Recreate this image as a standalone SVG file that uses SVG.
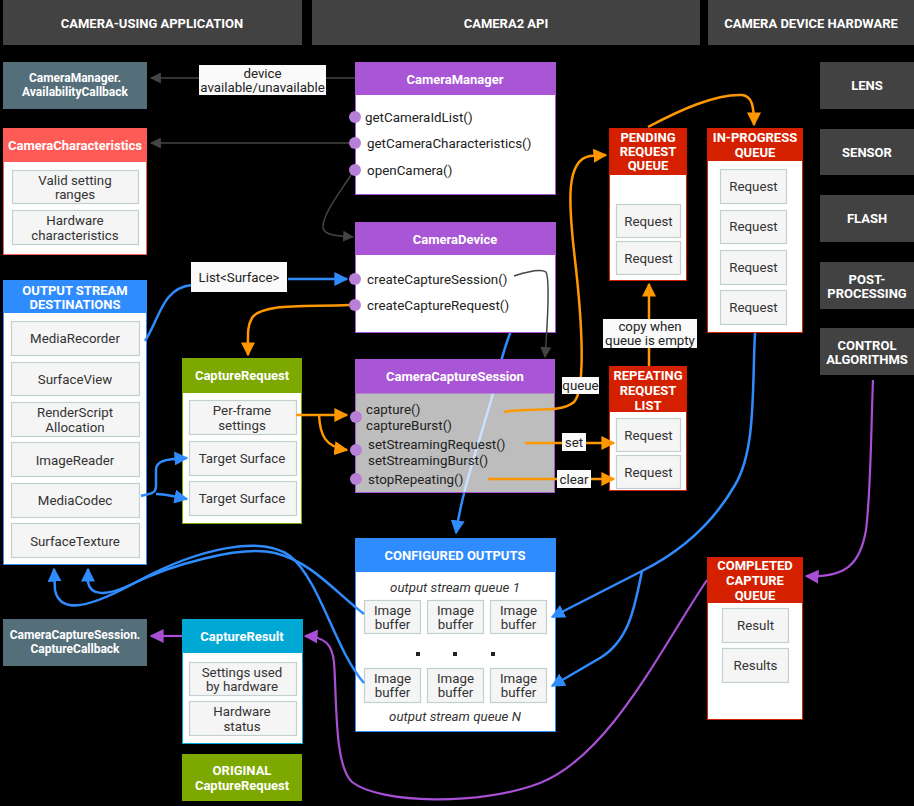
<svg xmlns="http://www.w3.org/2000/svg" width="914" height="806" viewBox="0 0 914 806">
  <defs>
    <style>
      text { font-family: Roboto, "Liberation Sans", sans-serif; }
      .hdr { fill: #424242; }
      .hdrt { fill: #ffffff; font-size: 13px; font-weight: bold; text-anchor: middle; }
      .ttl { fill: #ffffff; font-size: 13px; font-weight: bold; text-anchor: middle; }
      .ttls { fill: #ffffff; font-size: 12px; font-weight: bold; text-anchor: middle; }
      .item { fill: #f5f5f5; stroke: #c3d0cf; stroke-width: 1.2; }
      .it { fill: #333333; font-size: 13.3px; text-anchor: middle; }
      .m { fill: #222222; font-size: 13.4px; }
      .lbl { fill: #fafafa; }
      .lt { fill: #222222; font-size: 13.3px; text-anchor: middle; }
      .dot { fill: #b77fd7; }
      .body { fill: #ffffff; }
      .em { fill: #333333; font-size: 13.3px; font-style: italic; text-anchor: middle; }
      .gray { fill: none; stroke: #444444; stroke-width: 1.5; }
      .blue { fill: none; stroke: #2f8cff; stroke-width: 2.5; }
      .orange { fill: none; stroke: #ff9800; stroke-width: 2.5; }
      .purple { fill: none; stroke: #a94fd5; stroke-width: 2.2; }
    </style>
    <marker id="ahGray" viewBox="0 0 10 10" refX="9" refY="5" markerWidth="11" markerHeight="11" markerUnits="userSpaceOnUse" orient="auto">
      <path d="M0,0 L10,5 L0,10 z" fill="#444444"/>
    </marker>
    <marker id="ahBlue" viewBox="0 0 10 10" refX="9" refY="5" markerWidth="14" markerHeight="14" markerUnits="userSpaceOnUse" orient="auto">
      <path d="M0,0 L10,5 L0,10 z" fill="#2f8cff"/>
    </marker>
    <marker id="ahOrange" viewBox="0 0 10 10" refX="9" refY="5" markerWidth="14" markerHeight="14" markerUnits="userSpaceOnUse" orient="auto">
      <path d="M0,0 L10,5 L0,10 z" fill="#ff9800"/>
    </marker>
    <marker id="ahPurple" viewBox="0 0 10 10" refX="9" refY="5" markerWidth="14" markerHeight="14" markerUnits="userSpaceOnUse" orient="auto">
      <path d="M0,0 L10,5 L0,10 z" fill="#a94fd5"/>
    </marker>
  </defs>

  <rect width="914" height="806" fill="#000000"/>

  <!-- column headings -->
  <g id="col-app">
    <rect class="hdr" x="3" y="0" width="299" height="45"/>
    <text class="hdrt" x="152" y="27.5">CAMERA-USING APPLICATION</text>
  </g>
  <g id="col-api">
    <rect class="hdr" x="312" y="0" width="388" height="45"/>
    <text class="hdrt" x="506" y="27.5">CAMERA2 API</text>
  </g>
  <g id="col-hw">
    <rect class="hdr" x="708" y="0" width="206" height="45"/>
    <text class="hdrt" x="811" y="27.5">CAMERA DEVICE HARDWARE</text>
  </g>

  <!-- hardware blocks -->
  <g id="hw-lens"><rect class="hdr" x="820" y="62" width="94" height="47"/><text class="hdrt" x="867" y="90">LENS</text></g>
  <g id="hw-sensor"><rect class="hdr" x="820" y="129" width="94" height="46"/><text class="hdrt" x="867" y="157">SENSOR</text></g>
  <g id="hw-flash"><rect class="hdr" x="820" y="195" width="94" height="47"/><text class="hdrt" x="867" y="223">FLASH</text></g>
  <g id="hw-post"><rect class="hdr" x="820" y="262" width="94" height="47"/><text class="hdrt" x="867" y="283.5">POST-</text><text class="hdrt" x="867" y="298">PROCESSING</text></g>
  <g id="hw-control"><rect class="hdr" x="820" y="328" width="94" height="47"/><text class="hdrt" x="867" y="350">CONTROL</text><text class="hdrt" x="867" y="364">ALGORITHMS</text></g>

  <!-- connectors (drawn below the nodes where they pass behind them) -->
  <g id="connectors">
    <!-- createCaptureSession -> configured outputs (passes behind the translucent session body) -->
    <path class="blue" d="M517,280 C535,279 537,286 528,298 C515,318 505,340 494,390 C480,440 462,490 456,533" marker-end="url(#ahBlue)"/>
  </g>

  <!-- CameraManager.AvailabilityCallback -->
  <g id="availability-callback">
    <rect x="3" y="62" width="144" height="47" fill="#546e7a"/>
    <text class="ttls" x="75" y="81.5">CameraManager.</text>
    <text class="ttls" x="75" y="96">AvailabilityCallback</text>
  </g>

  <!-- CameraCharacteristics -->
  <g id="camera-characteristics">
    <rect x="3.5" y="128.5" width="143" height="126" fill="#ffffff" stroke="#ff5b56"/>
    <rect x="3" y="128" width="144" height="34" fill="#ff5b56"/>
    <text class="ttl" x="75" y="150">CameraCharacteristics</text>
    <rect class="item" x="12.5" y="170.5" width="126" height="33"/>
    <text class="it" x="75" y="185">Valid setting</text>
    <text class="it" x="75" y="199">ranges</text>
    <rect class="item" x="12.5" y="210.5" width="126" height="34"/>
    <text class="it" x="75" y="225">Hardware</text>
    <text class="it" x="75" y="240">characteristics</text>
  </g>

  <!-- Output stream destinations -->
  <g id="output-destinations">
    <rect x="3.5" y="280.5" width="143" height="284" fill="#ffffff" stroke="#2f8cff"/>
    <rect x="3" y="280" width="144" height="33" fill="#2f8cff"/>
    <text class="ttl" x="75" y="295">OUTPUT STREAM</text>
    <text class="ttl" x="75" y="309">DESTINATIONS</text>
    <rect class="item" x="11.5" y="321.5" width="128" height="34"/><text class="it" x="75" y="343">MediaRecorder</text>
    <rect class="item" x="11.5" y="362.5" width="128" height="33"/><text class="it" x="75" y="384">SurfaceView</text>
    <rect class="item" x="11.5" y="402.5" width="128" height="34"/><text class="it" x="75" y="417">RenderScript</text><text class="it" x="75" y="432">Allocation</text>
    <rect class="item" x="11.5" y="442.5" width="128" height="34"/><text class="it" x="75" y="465">ImageReader</text>
    <rect class="item" x="11.5" y="483.5" width="128" height="34"/><text class="it" x="75" y="505">MediaCodec</text>
    <rect class="item" x="11.5" y="523.5" width="128" height="34"/><text class="it" x="75" y="546">SurfaceTexture</text>
  </g>

  <!-- CaptureRequest -->
  <g id="capture-request">
    <rect x="182.5" y="358.5" width="119" height="165" fill="#ffffff" stroke="#7ca800"/>
    <rect x="182" y="358" width="120" height="35" fill="#7ca800"/>
    <text class="ttl" x="242" y="380">CaptureRequest</text>
    <rect class="item" x="189.5" y="400.5" width="107" height="34"/><text class="it" x="242" y="415">Per-frame</text><text class="it" x="242" y="430">settings</text>
    <rect class="item" x="189.5" y="441.5" width="107" height="34"/><text class="it" x="242" y="463">Target Surface</text>
    <rect class="item" x="189.5" y="481.5" width="107" height="34"/><text class="it" x="242" y="503">Target Surface</text>
  </g>

  <!-- CameraCaptureSession.CaptureCallback -->
  <g id="capture-callback">
    <rect x="3" y="619" width="144" height="47" fill="#546e7a"/>
    <text class="ttls" x="75" y="638.5">CameraCaptureSession.</text>
    <text class="ttls" x="75" y="653">CaptureCallback</text>
  </g>

  <!-- CaptureResult -->
  <g id="capture-result">
    <rect x="182.5" y="619.5" width="120" height="124" fill="#ffffff" stroke="#00a8d6"/>
    <rect x="182" y="619" width="121" height="34" fill="#00a8d6"/>
    <text class="ttl" x="242" y="640.5">CaptureResult</text>
    <rect class="item" x="189.5" y="662.5" width="107" height="33"/><text class="it" x="242" y="677">Settings used</text><text class="it" x="242" y="691">by hardware</text>
    <rect class="item" x="189.5" y="701.5" width="107" height="34"/><text class="it" x="242" y="716">Hardware</text><text class="it" x="242" y="731">status</text>
  </g>

  <!-- Original CaptureRequest -->
  <g id="original-request">
    <rect x="182" y="754" width="120" height="47" fill="#7ca800"/>
    <text class="ttl" x="242" y="775">ORIGINAL</text>
    <text class="ttl" x="242" y="790">CaptureRequest</text>
  </g>

  <!-- CameraManager -->
  <g id="camera-manager">
    <rect class="body" x="355.5" y="62.5" width="200" height="132" stroke="#a855d6"/>
    <rect x="355" y="62" width="201" height="33" fill="#a855d6"/>
    <text class="ttl" x="455" y="83.5">CameraManager</text>
    <circle class="dot" cx="355" cy="117" r="6"/><text class="m" x="365" y="121.5">getCameraIdList()</text>
    <circle class="dot" cx="355" cy="143" r="6"/><text class="m" x="367" y="147.5">getCameraCharacteristics()</text>
    <circle class="dot" cx="355" cy="170" r="6"/><text class="m" x="367" y="174.5">openCamera()</text>
  </g>

  <!-- CameraDevice -->
  <g id="camera-device">
    <rect class="body" x="355.5" y="222.5" width="200" height="110" stroke="#a855d6"/>
    <rect x="355" y="222" width="201" height="33" fill="#a855d6"/>
    <text class="ttl" x="455" y="243.5">CameraDevice</text>
    <circle class="dot" cx="355" cy="279" r="6"/><text class="m" x="367" y="283.5">createCaptureSession()</text>
    <circle class="dot" cx="355" cy="305" r="6"/><text class="m" x="367" y="309.5">createCaptureRequest()</text>
  </g>

  <!-- CameraCaptureSession -->
  <g id="capture-session">
    <rect x="355.5" y="393" width="199" height="99.5" fill="#ffffff" fill-opacity="0.74" stroke="#a855d6"/>
    <rect x="355" y="359" width="200" height="34" fill="#a855d6"/>
    <text class="ttl" x="455" y="381">CameraCaptureSession</text>
    <circle class="dot" cx="356" cy="417" r="6"/>
    <text class="m" x="366" y="413.5">capture()</text>
    <text class="m" x="366" y="429.5">captureBurst()</text>
    <circle class="dot" cx="356" cy="450" r="6"/>
    <text class="m" x="368" y="448.5">setStreamingRequest()</text>
    <text class="m" x="368" y="464.5">setStreamingBurst()</text>
    <circle class="dot" cx="356" cy="479" r="6"/>
    <text class="m" x="368" y="483.5">stopRepeating()</text>
  </g>

  <!-- Configured outputs -->
  <g id="configured-outputs">
    <rect class="body" x="355.5" y="538.5" width="200" height="193" stroke="#2f8cff"/>
    <rect x="355" y="538" width="201" height="34" fill="#2f8cff"/>
    <text class="ttl" x="455" y="560">CONFIGURED OUTPUTS</text>
    <text class="em" x="455" y="592">output stream queue 1</text>
    <rect class="item" x="364.5" y="600.5" width="56" height="33"/><text class="it" x="392.5" y="615">Image</text><text class="it" x="392.5" y="629">buffer</text>
    <rect class="item" x="427.5" y="600.5" width="56" height="33"/><text class="it" x="455.5" y="615">Image</text><text class="it" x="455.5" y="629">buffer</text>
    <rect class="item" x="490.5" y="600.5" width="56" height="33"/><text class="it" x="518.5" y="615">Image</text><text class="it" x="518.5" y="629">buffer</text>
    <rect x="416" y="652" width="4" height="4" fill="#222"/>
    <rect x="453" y="652" width="4" height="4" fill="#222"/>
    <rect x="491" y="652" width="4" height="4" fill="#222"/>
    <rect class="item" x="364.5" y="668.5" width="56" height="34"/><text class="it" x="392.5" y="683">Image</text><text class="it" x="392.5" y="697">buffer</text>
    <rect class="item" x="427.5" y="668.5" width="56" height="34"/><text class="it" x="455.5" y="683">Image</text><text class="it" x="455.5" y="697">buffer</text>
    <rect class="item" x="490.5" y="668.5" width="56" height="34"/><text class="it" x="518.5" y="683">Image</text><text class="it" x="518.5" y="697">buffer</text>
    <text class="em" x="455" y="721">output stream queue N</text>
  </g>

  <!-- Pending request queue -->
  <g id="pending-queue">
    <rect class="body" x="609.5" y="128.5" width="77" height="152" stroke="#d52000"/>
    <rect x="609" y="128" width="78" height="47" fill="#d52000"/>
    <text class="ttl" x="648" y="142">PENDING</text>
    <text class="ttl" x="648" y="156">REQUEST</text>
    <text class="ttl" x="648" y="170">QUEUE</text>
    <rect class="item" x="616.5" y="204.5" width="64" height="33"/><text class="it" x="648.5" y="226">Request</text>
    <rect class="item" x="616.5" y="241.5" width="64" height="33"/><text class="it" x="648.5" y="263">Request</text>
  </g>

  <!-- In-progress queue -->
  <g id="in-progress-queue">
    <rect class="body" x="707.5" y="128.5" width="95" height="204" stroke="#d52000"/>
    <rect x="707" y="128" width="96" height="33" fill="#d52000"/>
    <text class="ttl" x="755" y="142">IN-PROGRESS</text>
    <text class="ttl" x="755" y="157">QUEUE</text>
    <rect class="item" x="720.5" y="169.5" width="66" height="34"/><text class="it" x="753.5" y="191">Request</text>
    <rect class="item" x="720.5" y="210.5" width="66" height="33"/><text class="it" x="753.5" y="231">Request</text>
    <rect class="item" x="720.5" y="250.5" width="66" height="34"/><text class="it" x="753.5" y="272">Request</text>
    <rect class="item" x="720.5" y="290.5" width="66" height="34"/><text class="it" x="753.5" y="312">Request</text>
  </g>

  <!-- Repeating request list -->
  <g id="repeating-list">
    <rect class="body" x="609.5" y="366.5" width="77" height="124" stroke="#d52000"/>
    <rect x="609" y="366" width="78" height="46" fill="#d52000"/>
    <text class="ttl" x="648" y="380">REPEATING</text>
    <text class="ttl" x="648" y="395">REQUEST</text>
    <text class="ttl" x="648" y="410">LIST</text>
    <rect class="item" x="616.5" y="418.5" width="64" height="33"/><text class="it" x="648.5" y="440">Request</text>
    <rect class="item" x="616.5" y="455.5" width="64" height="33"/><text class="it" x="648.5" y="477">Request</text>
  </g>

  <!-- Completed capture queue -->
  <g id="completed-queue">
    <rect class="body" x="707.5" y="557.5" width="95" height="162" stroke="#d52000"/>
    <rect x="707" y="557" width="96" height="46" fill="#d52000"/>
    <text class="ttl" x="755" y="570">COMPLETED</text>
    <text class="ttl" x="755" y="585">CAPTURE</text>
    <text class="ttl" x="755" y="600">QUEUE</text>
    <rect class="item" x="722.5" y="608.5" width="66" height="34"/><text class="it" x="755.5" y="630">Result</text>
    <rect class="item" x="722.5" y="648.5" width="66" height="34"/><text class="it" x="755.5" y="670">Results</text>
  </g>

  <!-- connectors drawn over the nodes -->
  <g id="connectors-top">
    <!-- CameraManager callbacks -->
    <path class="gray" d="M355,78 L151,78" marker-end="url(#ahGray)"/>
    <path class="gray" d="M349,143 L151,143" marker-end="url(#ahGray)"/>
    <path class="gray" d="M351,175 C340,192 322,215 323,228 C325,236 340,236 353,237" marker-end="url(#ahGray)"/>
    <!-- createCaptureSession -> CameraCaptureSession -->
    <path class="gray" d="M514,276 C526,272 540,268 546,272 C550,280 547,330 545,357" marker-end="url(#ahGray)"/>

    <!-- surfaces -->
    <path class="blue" d="M145,341 C160,318 162,288 192,285"/>
    <path class="blue" d="M288,279 L347,279" marker-end="url(#ahBlue)"/>
    <path class="blue" d="M141,496 C150,493 156,495 156,485 L156,470 C156,462 162,459 187,458" marker-end="url(#ahBlue)"/>
    <path class="blue" d="M156,494 C166,494 172,496 187,499" marker-end="url(#ahBlue)"/>

    <!-- image buffers -> output destinations -->
    <path class="blue" d="M364,614 C335,592 312,562 275,553 C240,545 170,565 130,585 C105,597 90,595 88,582 L88,569" marker-end="url(#ahBlue)"/>
    <path class="blue" d="M364,683 C335,650 320,580 290,556 C262,535 200,548 140,580 C90,608 60,615 55,590 L54,569" marker-end="url(#ahBlue)"/>

    <!-- in-progress -> image buffers -->
    <path class="blue" d="M755,333 C752,390 756,450 735,485 C712,525 680,552 642,571 L552,617" marker-end="url(#ahBlue)"/>
    <path class="blue" d="M642,571 C635,605 630,640 600,658 L552,686" marker-end="url(#ahBlue)"/>

    <!-- requests -->
    <path class="orange" d="M349,305 C305,307 262,303 252,318 C247,326 248,335 248,355" marker-end="url(#ahOrange)"/>
    <path class="orange" d="M296,415 L347,415" marker-end="url(#ahOrange)"/>
    <path class="orange" d="M319,415 C320,435 325,447 347,450" marker-end="url(#ahOrange)"/>
    <path class="orange" d="M504,412 C530,407 560,414 574,402 C586,390 582,320 575,260 C568,200 566,160 590,156 L606,155" marker-end="url(#ahOrange)"/>
    <path class="orange" d="M648,127 C680,110 715,94 742,95 C752,96 754,106 754,125" marker-end="url(#ahOrange)"/>
    <path class="orange" d="M649,366 L649,284" marker-end="url(#ahOrange)"/>
    <path class="orange" d="M525,443 L614,443" marker-end="url(#ahOrange)"/>
    <path class="orange" d="M488,479 L614,479" marker-end="url(#ahOrange)"/>

    <!-- results -->
    <path class="purple" d="M873,380 C871,430 871,490 866,530 C860,565 845,578 806,576" marker-end="url(#ahPurple)"/>
    <path class="purple" d="M707,580 C660,650 610,755 540,783 C480,806 380,804 352,782 C334,765 337,700 334,662 C332,645 326,637 305,636" marker-end="url(#ahPurple)"/>
    <path class="purple" d="M182,636 L151,636" marker-end="url(#ahPurple)"/>
  </g>

  <!-- edge labels -->
  <g id="edge-labels">
    <rect class="lbl" x="199" y="65" width="127" height="30"/>
    <text class="lt" x="262.5" y="78">device</text>
    <text class="lt" x="262.5" y="92">available/unavailable</text>
    <rect class="lbl" x="191" y="262" width="96" height="30"/>
    <text class="lt" x="239" y="282">List&lt;Surface&gt;</text>
    <rect class="lbl" x="603" y="319" width="94" height="29"/>
    <text class="lt" x="650" y="331">copy when</text>
    <text class="lt" x="650" y="345">queue is empty</text>
    <rect class="lbl" x="562" y="377" width="37" height="17"/>
    <text class="lt" x="580.5" y="390">queue</text>
    <rect class="lbl" x="562" y="433" width="24" height="18"/>
    <text class="lt" x="574" y="446.5">set</text>
    <rect class="lbl" x="557" y="470" width="34" height="18"/>
    <text class="lt" x="574" y="483.5">clear</text>
  </g>
</svg>
